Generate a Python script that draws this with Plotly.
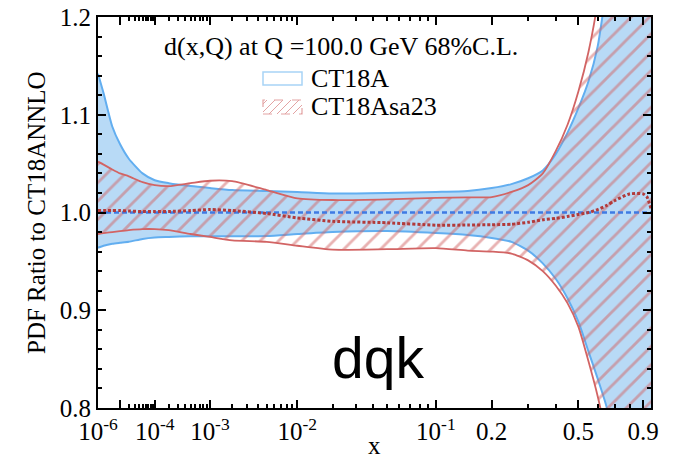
import numpy as np
import plotly.graph_objects as go

# ---------------- data ----------------
x_vals = [1e-6, 2e-6, 5e-6, 1e-5, 2e-5, 5e-5, 1e-4, 2e-4, 5e-4, 1e-3, 2e-3, 5e-3,
          1e-2, 2e-2, 5e-2, 0.1, 0.15, 0.2, 0.25, 0.3, 0.35, 0.4, 0.45, 0.5,
          0.55, 0.6, 0.65, 0.7, 0.8, 0.9, 0.93, 0.963]
ct18a_up = [1.142, 1.122, 1.088, 1.070, 1.055, 1.040, 1.033, 1.030, 1.027, 1.025, 1.023, 1.022,
            1.021, 1.0195, 1.020, 1.021, 1.022, 1.025, 1.029, 1.035, 1.043, 1.060, 1.082, 1.107,
            1.134, 1.170, 1.23, 1.30, 1.50, 1.80, 1.95, 2.05]
ct18a_lo = [0.964, 0.966, 0.968, 0.969, 0.970, 0.973, 0.9745, 0.975, 0.9757, 0.9757, 0.9757, 0.976,
            0.978, 0.980, 0.981, 0.979, 0.977, 0.974, 0.970, 0.961, 0.948, 0.932, 0.912, 0.888,
            0.858, 0.830, 0.802, 0.76, 0.62, 0.42, 0.33, 0.25]
ct18a_c = [1.0] * len(x_vals)
sa23_up = [1.052, 1.049, 1.044, 1.040, 1.037, 1.031, 1.028, 1.027, 1.030, 1.0325, 1.032, 1.023,
           1.0145, 1.0128, 1.0135, 1.015, 1.0155, 1.0158, 1.021, 1.028, 1.040, 1.063, 1.090, 1.124,
           1.164, 1.215, 1.28, 1.36, 1.56, 1.86, 2.0, 2.1]
sa23_lo = [0.978, 0.979, 0.980, 0.981, 0.982, 0.983, 0.983, 0.982, 0.978, 0.975, 0.9715, 0.970,
           0.966, 0.962, 0.9625, 0.9635, 0.961, 0.960, 0.958, 0.951, 0.940, 0.925, 0.907, 0.883,
           0.848, 0.812, 0.77, 0.72, 0.57, 0.36, 0.28, 0.2]
sa23_c = [1.002, 1.002, 1.002, 1.002, 1.0015, 1.001, 1.001, 1.001, 1.002, 1.003, 1.002, 0.999,
          0.9945, 0.991, 0.9895, 0.987, 0.9872, 0.9875, 0.988, 0.990, 0.9925, 0.994, 0.996, 0.998,
          1.000, 1.003, 1.007, 1.012, 1.019, 1.019, 1.016, 1.004]

major_ticks = [1e-6, 1e-5, 1e-4, 1e-3, 1e-2, 0.1, 0.2, 0.5, 0.9]
major_text = ['10<sup>-6</sup>', '', '10<sup>-4</sup>', '10<sup>-3</sup>', '10<sup>-2</sup>',
              '10<sup>-1</sup>', '0.2', '0.5', '0.9']
minor_ticks = ([k * 1e-5 for k in range(2, 10)] + [k * 1e-4 for k in range(2, 10)] +
               [k * 1e-3 for k in range(2, 10)] + [k * 1e-2 for k in range(2, 10)] +
               [0.3, 0.4, 0.6, 0.7, 0.8])
y_ticks = [0.8, 0.9, 1.0, 1.1, 1.2]
y_text = ['0.8', '0.9', '1.0', '1.1', '1.2']
x_range = [1e-6, 0.963]
y_range = [0.8, 1.2]

POW = 0.2  # the x axis is drawn on an x^0.2 scale


def tr(v):
    return np.power(np.asarray(v, dtype=float), POW)


u = tr(x_vals)

BLUE_FILL = 'rgba(150,200,242,0.68)'
BLUE_LINE = '#62aef0'
BLUE_C = '#3f7be3'
RED_LINE = '#d26464'
RED_C = '#b23a3a'
SERIF = 'Liberation Serif'

fig = go.Figure()
# CT18A band
fig.add_trace(go.Scatter(x=u, y=ct18a_lo, mode='lines', line=dict(color=BLUE_LINE, width=2, shape='spline', smoothing=0.6),
                         showlegend=False, hoverinfo='skip'))
fig.add_trace(go.Scatter(x=u, y=ct18a_up, mode='lines', line=dict(color=BLUE_LINE, width=2, shape='spline', smoothing=0.6),
                         fill='tonexty', fillcolor=BLUE_FILL, showlegend=False, hoverinfo='skip'))
# CT18Asa23 band (hatched)
fig.add_trace(go.Scatter(x=u, y=sa23_lo, mode='lines', line=dict(color=RED_LINE, width=1.8, shape='spline', smoothing=0.6),
                         showlegend=False, hoverinfo='skip'))
fig.add_trace(go.Scatter(x=u, y=sa23_up, mode='lines', line=dict(color=RED_LINE, width=1.8, shape='spline', smoothing=0.6),
                         fill='tonexty', fillcolor='rgba(0,0,0,0)',
                         fillpattern=dict(shape='/', fgcolor=RED_LINE, bgcolor='rgba(0,0,0,0)', size=13, solidity=0.22),
                         showlegend=False, hoverinfo='skip'))
# central values
fig.add_trace(go.Scatter(x=u, y=ct18a_c, mode='lines', line=dict(color=BLUE_C, width=2.5, dash='5px,3px'),
                         showlegend=False, hoverinfo='skip'))
fig.add_trace(go.Scatter(x=u, y=sa23_c, mode='lines', line=dict(color=RED_C, width=3, dash='3px,2px', shape='spline', smoothing=0.6),
                         showlegend=False, hoverinfo='skip'))

W, H = 673, 463
L, R, T, B = 98, 651, 17, 408


def px(xp):
    return (xp - L) / (R - L)


def py(yp):
    return (B - yp) / (B - T)


axis_common = dict(showline=True, linecolor='black', linewidth=2, ticks='inside', ticklen=8,
                   tickwidth=2, tickcolor='black', mirror='allticks', showgrid=False, zeroline=False,
                   tickfont=dict(family=SERIF, size=25, color='black'), automargin=False)

fig.update_xaxes(type='linear', range=list(tr(x_range)), tickmode='array', tickvals=list(tr(major_ticks)),
                 ticktext=major_text,
                 minor=dict(tickmode='array', tickvals=list(tr(minor_ticks)), ticks='inside', ticklen=4,
                            tickwidth=1.5, tickcolor='black', showgrid=False),
                 **axis_common)
fig.update_yaxes(range=y_range, tickmode='array', tickvals=y_ticks, ticktext=y_text,
                 minor=dict(dtick=0.02, ticks='inside', ticklen=4, tickwidth=1.5, tickcolor='black', showgrid=False),
                 **axis_common)

annotations = [
    dict(text='d(x,Q) at Q =100.0 GeV 68%C.L.', x=px(341), y=py(46), xref='paper', yref='paper',
         showarrow=False, xanchor='center', yanchor='middle', font=dict(family=SERIF, size=26, color='black')),
    dict(text='CT18A', x=px(309), y=py(79), xref='paper', yref='paper', showarrow=False,
         xanchor='left', yanchor='middle', font=dict(family=SERIF, size=26, color='black')),
    dict(text='CT18Asa23', x=px(309), y=py(107), xref='paper', yref='paper', showarrow=False,
         xanchor='left', yanchor='middle', font=dict(family=SERIF, size=26, color='black')),
    dict(text='PDF Ratio to CT18ANNLO', x=px(36), y=py(213), xref='paper', yref='paper', showarrow=False,
         textangle=-90, xanchor='center', yanchor='middle', font=dict(family=SERIF, size=25, color='black')),
    dict(text='x', x=px(374), y=py(446), xref='paper', yref='paper', showarrow=False,
         xanchor='center', yanchor='middle', font=dict(family=SERIF, size=25, color='black')),
    dict(text='dqk', x=px(378), y=py(358), xref='paper', yref='paper', showarrow=False,
         xanchor='center', yanchor='middle', font=dict(family='Liberation Sans', size=57, color='black')),
]

shapes = [
    dict(type='rect', xref='paper', yref='paper', x0=px(263), x1=px(302), y0=py(85), y1=py(72),
         line=dict(color='#a8d4f6', width=1.5), fillcolor='white'),
    dict(type='rect', xref='paper', yref='paper', x0=px(263), x1=px(302), y0=py(114), y1=py(100),
         line=dict(color='#e3a3a3', width=1.2, dash='dash'), fillcolor='rgba(0,0,0,0)'),
]
# hatch lines for legend swatch
bx0, bx1, by0, by1 = 263, 302, 100, 114
h = by1 - by0
for k in range(-h + 4, bx1 - bx0, 8):
    xa, ya = bx0 + k, by1
    xb, yb = bx0 + k + h, by0
    if xa < bx0:
        ya = by1 - (bx0 - xa)
        xa = bx0
    if xb > bx1:
        yb = by0 + (xb - bx1)
        xb = bx1
    shapes.append(dict(type='line', xref='paper', yref='paper', x0=px(xa), y0=py(ya), x1=px(xb), y1=py(yb),
                       line=dict(color='#e3a3a3', width=1)))

fig.update_layout(width=W, height=H, margin=dict(l=L, r=W - R, t=T, b=H - B, pad=0),
                  plot_bgcolor='white', paper_bgcolor='white', showlegend=False,
                  annotations=annotations, shapes=shapes)

fig.write_html('out.html')
